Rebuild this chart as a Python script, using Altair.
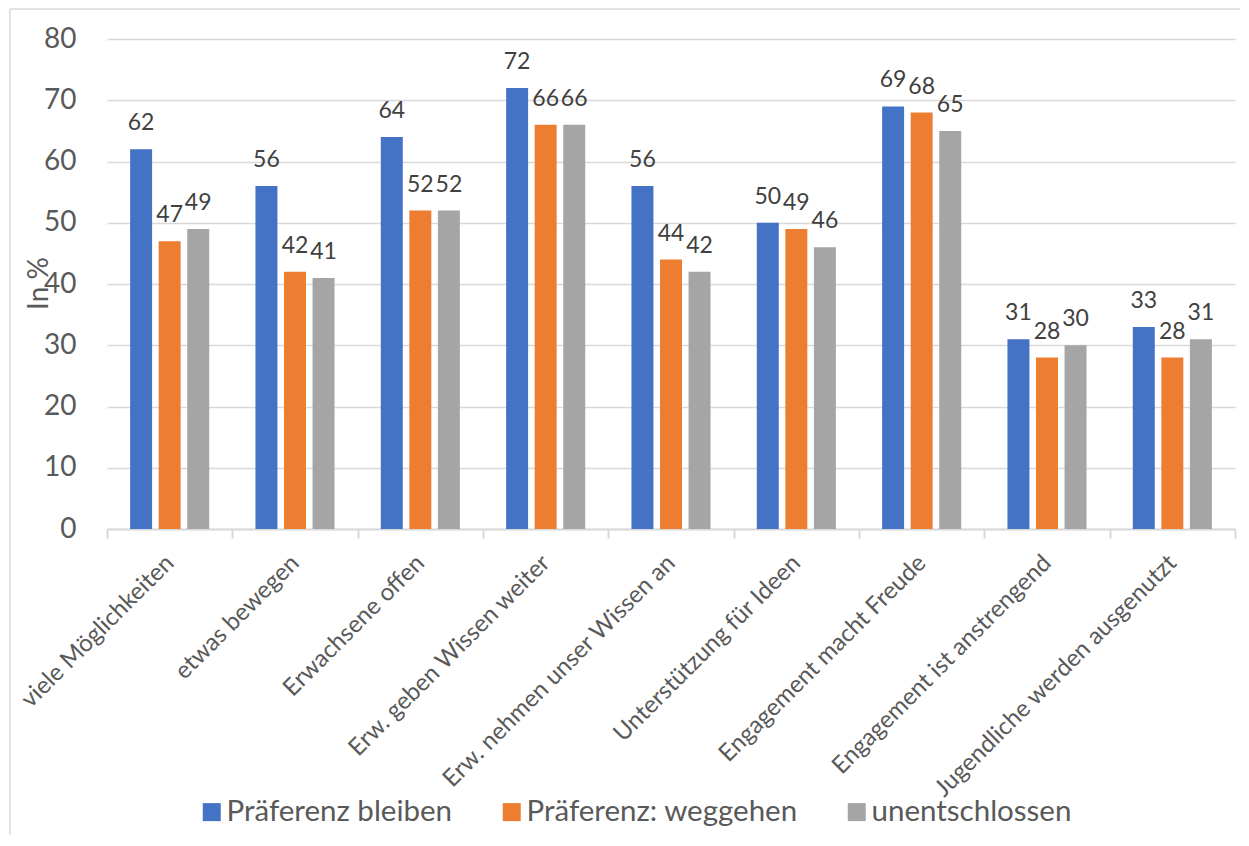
import altair as alt
import pandas as pd

categories = [
    "viele Möglichkeiten",
    "etwas bewegen",
    "Erwachsene offen",
    "Erw. geben Wissen weiter",
    "Erw. nehmen unser Wissen an",
    "Unterstützung für Ideen",
    "Engagement macht Freude",
    "Engagement ist anstrengend",
    "Jugendliche werden ausgenutzt",
]
series = ["Präferenz bleiben", "Präferenz: weggehen", "unentschlossen"]
bleiben = [62, 56, 64, 72, 56, 50, 69, 31, 33]
weggehen = [47, 42, 52, 66, 44, 49, 68, 28, 28]
unentschlossen = [49, 41, 52, 66, 42, 46, 65, 30, 31]
colors = ["#4472C4", "#ED7D31", "#A5A5A5"]
y_ticks = [0, 10, 20, 30, 40, 50, 60, 70, 80]

rows = []
for s, vals in zip(series, [bleiben, weggehen, unentschlossen]):
    for c, v in zip(categories, vals):
        rows.append({"Kategorie": c, "Gruppe": s, "Wert": v})
df = pd.DataFrame(rows)

W, H = 1128, 490
FONT = "Lato"
GRAY_TXT = "#595959"
LINE = "#D9D9D9"

x = alt.X(
    "Kategorie:N",
    sort=categories,
    scale=alt.Scale(domain=categories, paddingInner=0, paddingOuter=0),
    axis=alt.Axis(
        title=None,
        labelAngle=-45,
        labelAlign="right",
        labelBaseline="middle",
        labelPadding=21,
        labelFontSize=24,
        labelFont=FONT,
        labelColor=GRAY_TXT,
        labelLimit=0,
        domainColor=LINE,
        domainWidth=2,
        tickColor=LINE,
        tickWidth=2,
        tickSize=9,
        tickBand="extent",
        grid=False,
    ),
)
xo = alt.XOffset(
    "Gruppe:N",
    sort=series,
    scale=alt.Scale(domain=series, paddingInner=0.23, paddingOuter=0.81),
)
y = alt.Y(
    "Wert:Q",
    scale=alt.Scale(domain=[0, 80], nice=False),
    axis=alt.Axis(
        title="In %",
        values=y_ticks,
        domain=False,
        ticks=False,
        labelPadding=31,
        labelFontSize=28,
        labelFont=FONT,
        labelColor=GRAY_TXT,
        gridColor=LINE,
        gridWidth=1.5,
        titleFont=FONT,
        titleFontSize=28,
        titleFontWeight="normal",
        titleColor=GRAY_TXT,
        titleAngle=-90,
        titleX=-60,
        titleY=244,
        titleAlign="center",
        titleBaseline="alphabetic",
    ),
)
color = alt.Color(
    "Gruppe:N",
    sort=series,
    scale=alt.Scale(domain=series, range=colors),
    legend=alt.Legend(
        title=None,
        orient="none",
        legendX=90,
        legendY=758,
        direction="horizontal",
        symbolType="square",
        symbolSize=324,
        symbolStrokeWidth=0,
        labelFontSize=29.5,
        labelFont=FONT,
        labelColor=GRAY_TXT,
        labelOffset=0,
        columnPadding=44,
        padding=0,
        offset=0,
        labelLimit=0,
    ),
)

base = alt.Chart(df)
bars = base.mark_bar().encode(x=x, xOffset=xo, y=y, color=color)
labels = base.mark_text(
    dy=-19, baseline="alphabetic", fontSize=23, font=FONT, color="#404040"
).encode(x=x, xOffset=xo, y=y, text=alt.Text("Wert:Q"))

frame_df = pd.DataFrame({"k": [0]})
frame_left = alt.Chart(frame_df).mark_rule(color=LINE, strokeWidth=1.5).encode(
    x=alt.value(-97), y=alt.value(-30), y2=alt.value(800)
)
frame_top = alt.Chart(frame_df).mark_rule(color=LINE, strokeWidth=1.5).encode(
    x=alt.value(-97), x2=alt.value(1140), y=alt.value(-30)
)

chart = (
    alt.layer(frame_left, frame_top, bars, labels)
    .properties(
        width=W,
        height=H,
        padding={"left": 99, "top": 31, "right": 5, "bottom": 306},
        autosize=alt.AutoSizeParams(type="none"),
        background="white",
    )
    .configure_view(stroke=None)
)

chart.save("out.html", embed_options={"renderer": "svg", "actions": False})
